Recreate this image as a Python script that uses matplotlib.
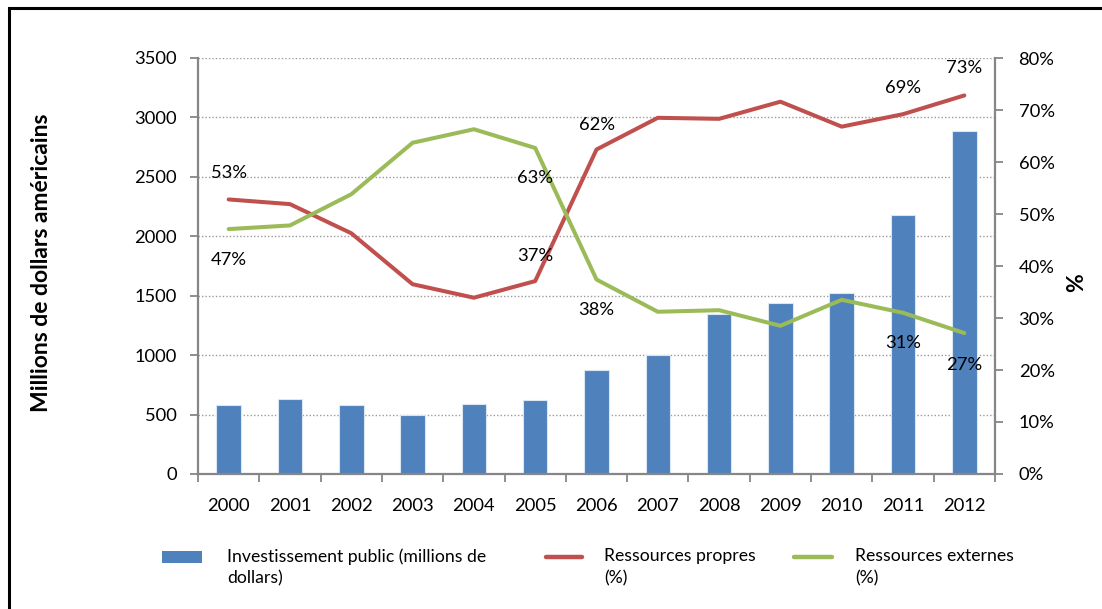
import matplotlib
matplotlib.use("Agg")
import matplotlib.pyplot as plt
import numpy as np
from matplotlib.patches import Rectangle
from matplotlib.lines import Line2D

plt.rcParams['font.family'] = ['Lato', 'DejaVu Sans']

years = ['2000', '2001', '2002', '2003', '2004', '2005', '2006',
         '2007', '2008', '2009', '2010', '2011', '2012']
investissement = [580, 630, 580, 500, 590, 620, 875, 1000, 1350, 1440, 1520, 2180, 2890]
propres = [52.8, 51.9, 46.3, 36.5, 33.9, 37.1, 62.4, 68.5, 68.3, 71.6, 66.8, 69.2, 72.8]
externes = [47.1, 47.8, 53.8, 63.7, 66.3, 62.7, 37.4, 31.2, 31.5, 28.5, 33.5, 31.0, 27.1]

# labelled points: (index, text, vertical offset in pixels)
labels_propres = [(0, '53%', 26), (5, '37%', 25), (6, '62%', 25), (11, '69%', 26), (12, '73%', 27)]
labels_externes = [(0, '47%', -31), (5, '63%', -30), (6, '38%', -30), (11, '31%', -30), (12, '27%', -32)]

BLUE = '#4F81BD'
RED = '#C0504D'
GREEN = '#9BBB59'
GREY = '#868686'
FS = 13.2
FS_LEG = 12.7

W, H = 1102, 609
fig = plt.figure(figsize=(W / 100, H / 100), dpi=100)

def fx(px):
    return px / W

def fy(py):
    return 1 - py / H

ax = fig.add_axes([fx(198), fy(474), fx(995) - fx(198), fy(58) - fy(474)])
x = np.arange(len(years))

ax.bar(x, investissement, width=0.4, color=BLUE, edgecolor='#dce6f2', linewidth=0.8, zorder=2)
ax.set_xlim(-0.5, len(years) - 0.5)
ax.set_ylim(0, 3500)
ax.set_yticks(np.arange(0, 3501, 500))
ax.yaxis.grid(True, linestyle=(0, (1, 1.5)), color='#9a9a9a', linewidth=1.0, zorder=0)
ax.set_axisbelow(True)

ax.set_xticks(x)
ax.set_xticklabels(years)
ax.set_xticks(np.arange(-0.5, len(years), 1), minor=True)
ax.tick_params(axis='x', which='major', length=0, pad=17, labelsize=FS, colors='black')
ax.tick_params(axis='x', which='minor', length=6, width=1.3, color=GREY, direction='out')
ax.tick_params(axis='y', length=6, width=1.3, color=GREY, pad=9, labelsize=FS, labelcolor='black')

for side in ('top', 'right'):
    ax.spines[side].set_visible(False)
for side in ('left', 'bottom'):
    ax.spines[side].set_color(GREY)
    ax.spines[side].set_linewidth(1.6)

ax2 = ax.twinx()
ax2.plot(x, propres, color=RED, linewidth=2.9, solid_capstyle='round', zorder=3)
ax2.plot(x, externes, color=GREEN, linewidth=2.9, solid_capstyle='round', zorder=3)
ax2.set_ylim(0, 80)
ax2.set_yticks(np.arange(0, 81, 10))
ax2.set_yticklabels([f'{v}%' for v in range(0, 81, 10)])
ax2.tick_params(axis='y', length=6, width=1.3, color=GREY, pad=11, labelsize=FS, labelcolor='black')
for side in ('top', 'left', 'bottom'):
    ax2.spines[side].set_visible(False)
ax2.spines['right'].set_color(GREY)
ax2.spines['right'].set_linewidth(1.6)

for i, txt, dy in labels_propres:
    ax2.annotate(txt, (x[i], propres[i]), xytext=(0, dy), textcoords='offset pixels',
                 ha='center', va='center', fontsize=FS, zorder=4)
for i, txt, dy in labels_externes:
    ax2.annotate(txt, (x[i], externes[i]), xytext=(0, dy), textcoords='offset pixels',
                 ha='center', va='center', fontsize=FS, zorder=4)

fig.text(fx(42), fy(263), 'Millions de dollars américains', rotation=90,
         ha='center', va='center', fontsize=16.5, fontweight='bold')
fig.text(fx(1077), fy(283), '%', rotation=90, ha='center', va='center',
         fontsize=16.5, fontweight='bold')

# legend
fig.add_artist(Rectangle((fx(162), fy(563)), fx(202) - fx(162), fy(551) - fy(563),
                         transform=fig.transFigure, facecolor=BLUE, edgecolor='none'))
fig.add_artist(Line2D([fx(546), fx(582)], [fy(557), fy(557)], transform=fig.transFigure,
                      color=RED, linewidth=3.2, solid_capstyle='round'))
fig.add_artist(Line2D([fx(794), fx(832)], [fy(557), fy(557)], transform=fig.transFigure,
                      color=GREEN, linewidth=3.2, solid_capstyle='round'))
legend_texts = [(227, 'Investissement public (millions de\ndollars)'),
                (604, 'Ressources propres\n(%)'),
                (855, 'Ressources externes\n(%)')]
for px, txt in legend_texts:
    fig.text(fx(px), fy(548), txt, ha='left', va='top', fontsize=FS_LEG, linespacing=1.45)

# outer frame
fig.add_artist(Rectangle((fx(8.5), -0.2), 1.2, fy(8.5) + 0.2, transform=fig.transFigure,
                         facecolor='none', edgecolor='black', linewidth=2.2))

fig.savefig('out.png', dpi=100)
